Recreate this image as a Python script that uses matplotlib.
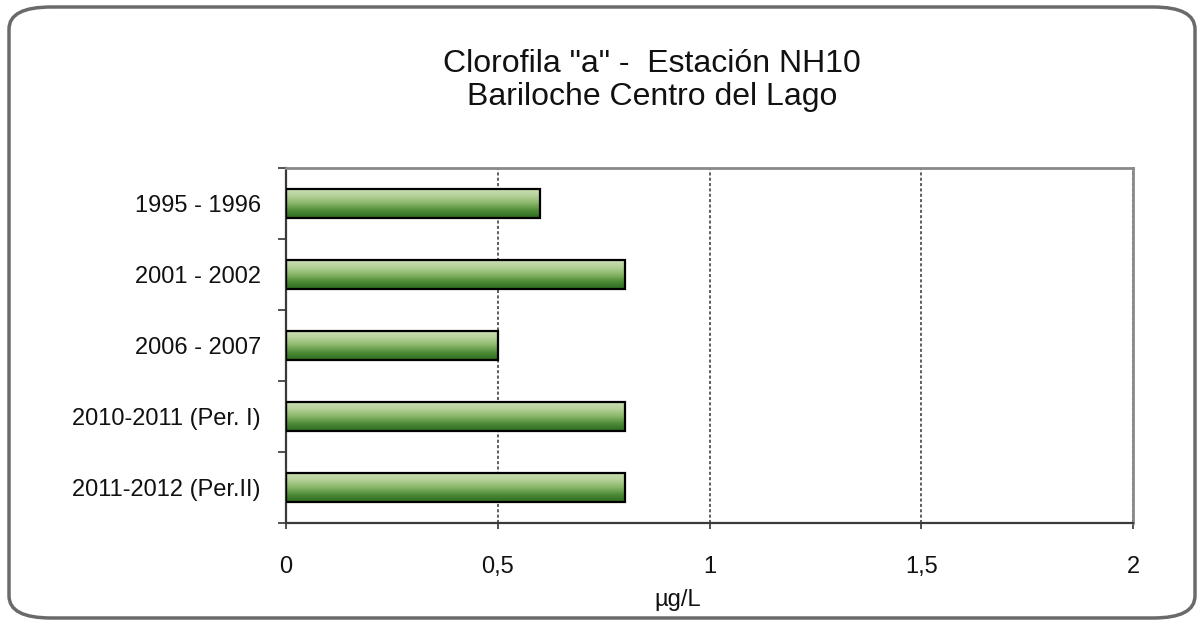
import numpy as np
import matplotlib
matplotlib.use("Agg")
from matplotlib import pyplot as plt
from matplotlib.patches import FancyBboxPatch
from matplotlib.colors import LinearSegmentedColormap

plt.rcParams["font.family"] = ["Liberation Sans", "DejaVu Sans"]

periodos = ["1995 - 1996", "2001 - 2002", "2006 - 2007",
            "2010-2011 (Per. I)", "2011-2012 (Per.II)"]
clorofila = [0.6, 0.8, 0.5, 0.8, 0.8]
xticks = [0, 0.5, 1, 1.5, 2]
xtick_labels = ["0", "0,5", "1", "1,5", "2"]

W, H = 1202, 632
fig = plt.figure(figsize=(W / 100, H / 100), dpi=100)
ax = fig.add_axes([286 / W, 1 - 523 / H, (1133 - 286) / W, (523 - 168) / H])

# rounded frame around the whole chart
frame = FancyBboxPatch((9 / W, 14 / H), 1186 / W, 611 / H,
                       boxstyle="round,pad=0,rounding_size=0.035",
                       transform=fig.transFigure, fill=False,
                       edgecolor="#6a6a6a", linewidth=2.5)
fig.patches.append(frame)

verde = LinearSegmentedColormap.from_list(
    "verde", ["#2b6b1f", "#4f8c37", "#8bb86a", "#b6d29a", "#cde0b8"])
grad = np.linspace(0, 1, 64).reshape(-1, 1)

y = np.arange(len(periodos))
bars = ax.barh(y, clorofila, height=0.41, color="none",
               edgecolor="black", linewidth=1.6, zorder=3)
for b in bars:
    x0, y0 = b.get_x(), b.get_y()
    im = ax.imshow(grad, cmap=verde, aspect="auto", origin="lower",
                   extent=(x0, x0 + b.get_width(), y0 + b.get_height(), y0),
                   zorder=2)
    im.set_clip_path(b)

ax.set_xlim(0, 2)
ax.set_ylim(len(periodos) - 0.5, -0.5)
ax.set_xticks(xticks)
ax.set_xticklabels(xtick_labels)
ax.set_yticks(y)
ax.set_yticklabels(periodos)
ax.set_yticks(np.arange(-0.5, len(periodos)), minor=True)
ax.tick_params(axis="y", which="major", length=0, pad=18, labelsize=17,
               labelcolor="#111111")
ax.tick_params(axis="y", which="minor", length=6, width=1.2, color="#333333")
ax.tick_params(axis="x", length=4, width=1.2, pad=20, labelsize=17,
               color="#333333", labelcolor="#111111")

ax.grid(axis="x", linestyle=(0, (2, 1.5)), color="#333333", linewidth=1.1)
ax.set_axisbelow(True)
for s in ["left", "bottom"]:
    ax.spines[s].set_color("#3a3a3a")
    ax.spines[s].set_linewidth(1.6)
for s in ["top", "right"]:
    ax.spines[s].set_color("#8a8a8a")
    ax.spines[s].set_linewidth(2)

ax.set_xlabel("µg/L", fontsize=17, color="#111111")
ax.xaxis.label.set_va("center")
ax.xaxis.set_label_coords(0.462, -0.217)

fig.text(652 / W, 1 - 64 / H, 'Clorofila "a" -  Estación NH10',
         ha="center", va="center", fontsize=23, color="#111111")
fig.text(652 / W, 1 - 97 / H, "Bariloche Centro del Lago",
         ha="center", va="center", fontsize=23, color="#111111")

fig.savefig("out.png", dpi=100)
